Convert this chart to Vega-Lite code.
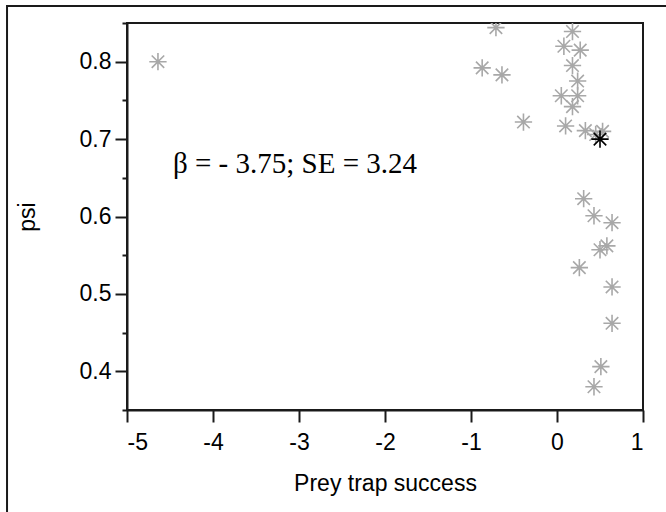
{
  "$schema": "https://vega.github.io/schema/vega-lite/v6.json",
  "width": 516,
  "height": 387,
  "autosize": {"type": "none"},
  "padding": {"left": 127, "top": 23, "right": 23, "bottom": 102},
  "background": "white",
  "config": {
    "view": {"stroke": "#1a1a1a", "strokeWidth": 2},
    "axis": {
      "domainColor": "#1a1a1a",
      "domainWidth": 2,
      "tickColor": "#1a1a1a",
      "tickWidth": 2,
      "tickSize": 12,
      "grid": false,
      "labelFont": "Liberation Sans",
      "labelFontSize": 23,
      "labelColor": "#000000",
      "labelOverlap": false,
      "titleFont": "Liberation Sans",
      "titleFontSize": 23,
      "titleFontWeight": "normal",
      "titleColor": "#000000"
    }
  },
  "resolve": {"axis": {"y": "independent"}},
  "layer": [
    {
      "data": {
        "values": [
          {"x": -4.64, "y": 0.800, "c": "grey"},
          {"x": -0.71, "y": 0.844, "c": "grey"},
          {"x": 0.18, "y": 0.839, "c": "grey"},
          {"x": 0.08, "y": 0.820, "c": "grey"},
          {"x": 0.27, "y": 0.815, "c": "grey"},
          {"x": 0.18, "y": 0.795, "c": "grey"},
          {"x": -0.87, "y": 0.792, "c": "grey"},
          {"x": -0.64, "y": 0.783, "c": "grey"},
          {"x": 0.24, "y": 0.775, "c": "grey"},
          {"x": 0.05, "y": 0.756, "c": "grey"},
          {"x": 0.24, "y": 0.756, "c": "grey"},
          {"x": 0.18, "y": 0.742, "c": "grey"},
          {"x": -0.39, "y": 0.722, "c": "grey"},
          {"x": 0.10, "y": 0.717, "c": "grey"},
          {"x": 0.33, "y": 0.711, "c": "grey"},
          {"x": 0.45, "y": 0.706, "c": "grey"},
          {"x": 0.53, "y": 0.710, "c": "grey"},
          {"x": 0.31, "y": 0.623, "c": "grey"},
          {"x": 0.43, "y": 0.601, "c": "grey"},
          {"x": 0.64, "y": 0.592, "c": "grey"},
          {"x": 0.58, "y": 0.562, "c": "grey"},
          {"x": 0.50, "y": 0.557, "c": "grey"},
          {"x": 0.26, "y": 0.534, "c": "grey"},
          {"x": 0.64, "y": 0.509, "c": "grey"},
          {"x": 0.64, "y": 0.462, "c": "grey"},
          {"x": 0.51, "y": 0.406, "c": "grey"},
          {"x": 0.43, "y": 0.380, "c": "grey"},
          {"x": 0.50, "y": 0.700, "c": "black"}
        ]
      },
      "mark": {
        "type": "point",
        "shape": "M0,-1L0,1M-1,0L1,0M-0.72,-0.72L0.72,0.72M-0.72,0.72L0.72,-0.72",
        "filled": false,
        "size": 300,
        "strokeWidth": 1.6,
        "opacity": 1,
        "clip": true
      },
      "encoding": {
        "x": {
          "field": "x",
          "type": "quantitative",
          "scale": {"domain": [-5, 1], "nice": false, "zero": false},
          "axis": {
            "values": [-5, -4, -3, -2, -1, 0, 1],
            "labelExpr": "'' + datum.value",
            "labelPadding": 9,
            "title": "Prey trap success",
            "titlePadding": 18
          }
        },
        "y": {
          "field": "y",
          "type": "quantitative",
          "scale": {"domain": [0.35, 0.85], "nice": false, "zero": false},
          "axis": {
            "orient": "left",
            "values": [0.4, 0.5, 0.6, 0.7, 0.8],
            "format": ".1f",
            "labelPadding": 4,
            "title": "psi",
            "titlePadding": 40
          }
        },
        "stroke": {
          "field": "c",
          "type": "nominal",
          "scale": {"domain": ["grey", "black"], "range": ["#a8a8a8", "#000000"]},
          "legend": null
        }
      }
    },
    {
      "data": {"values": [{}]},
      "mark": {
        "type": "text",
        "text": "β = - 3.75; SE = 3.24",
        "font": "Liberation Serif",
        "fontSize": 29,
        "align": "left",
        "baseline": "alphabetic",
        "color": "#000000"
      },
      "encoding": {
        "x": {"datum": -4.465, "type": "quantitative"},
        "y": {
          "datum": 0.6562,
          "type": "quantitative",
          "axis": {
            "orient": "left",
            "values": [0.35, 0.45, 0.55, 0.65, 0.75, 0.85],
            "labels": false,
            "domain": false,
            "tickSize": 5,
            "title": null
          }
        }
      }
    },
    {
      "data": {"values": [{}]},
      "mark": {
        "type": "rect",
        "filled": false,
        "stroke": "#1a1a1a",
        "strokeWidth": 2,
        "clip": false
      },
      "encoding": {
        "x": {"datum": -6.395, "type": "quantitative"},
        "x2": {"datum": 2.5},
        "y": {"datum": 0.872, "type": "quantitative", "axis": null},
        "y2": {"datum": 0.2}
      }
    }
  ]
}
